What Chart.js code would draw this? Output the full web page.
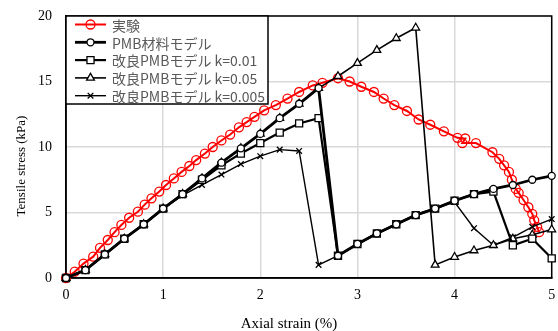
<!DOCTYPE html>
<html>
<head>
<meta charset="utf-8">
<script src="https://cdn.jsdelivr.net/npm/chart.js@4.4.1/dist/chart.umd.min.js"></script>
<style>
  body { margin: 0; background: #fff; }
  canvas { display: block; }
</style>
</head>
<body>
<canvas id="strainChart" width="558" height="331"></canvas>
<script>
'use strict';

// 実験 (experiment)
var expStrain = [0, 0.09, 0.18, 0.28, 0.35, 0.43, 0.5, 0.57, 0.65, 0.74, 0.81, 0.88, 0.96, 1.03, 1.11, 1.19,
    1.27, 1.34, 1.43, 1.51, 1.6, 1.69, 1.78, 1.86, 1.94, 2.04, 2.16, 2.28, 2.4, 2.54, 2.64, 2.8,
    2.92, 3.04, 3.17, 3.27, 3.38, 3.51, 3.63, 3.75, 3.89, 4.03, 4.11, 4.08, 4.22, 4.39, 4.46, 4.51,
    4.56, 4.59, 4.63, 4.66, 4.71, 4.76, 4.8, 4.82, 4.85, 4.87];
var expStress = [0, 0.48, 1.1, 1.63, 2.3, 2.9, 3.5, 4.05, 4.6, 5.06, 5.6, 6.08, 6.6, 7.1, 7.6, 8.1,
    8.55, 9.0, 9.5, 10.0, 10.5, 10.95, 11.5, 11.9, 12.3, 12.8, 13.2, 13.7, 14.2, 14.7, 14.9, 15.25,
    15.0, 14.6, 14.2, 13.7, 13.2, 12.75, 12.1, 11.7, 11.2, 10.7, 10.65, 10.3, 10.3, 9.6, 9.1, 8.6,
    8.1, 7.5, 6.8, 6.5, 5.95, 5.4, 4.9, 4.4, 3.9, 3.5];

// model curves share the same strain steps
var modelStrain = [0, 0.2, 0.4, 0.6, 0.8, 1.0, 1.2, 1.4, 1.6, 1.8, 2.0, 2.2, 2.4, 2.6,
    2.8, 3.0, 3.2, 3.4, 3.6, 3.8, 4.0, 4.2, 4.4, 4.6, 4.8, 5.0];
var pmbStress = [0, 0.6, 1.8, 3.0, 4.1, 5.3, 6.4, 7.6, 8.8, 9.9, 11.0, 12.2, 13.3, 14.5,
    1.7, 2.6, 3.4, 4.1, 4.8, 5.3, 5.9, 6.4, 6.8, 7.1, 7.5, 7.8];
var k001Stress = [0, 0.6, 1.8, 3.0, 4.1, 5.3, 6.4, 7.5, 8.6, 9.5, 10.3, 11.1, 11.8, 12.2,
    1.7, 2.6, 3.4, 4.1, 4.8, 5.3, 5.9, 6.4, 6.6, 2.5, 3.0, 1.5];
var k005Stress = [0, 0.6, 1.8, 3.0, 4.1, 5.3, 6.4, 7.6, 8.8, 9.9, 11.0, 12.2, 13.3, 14.5,
    15.4, 16.4, 17.4, 18.3, 19.1, 1.0, 1.6, 2.1, 2.5, 3.0, 3.3, 3.7];
var k0005Stress = [0, 0.6, 1.8, 3.0, 4.1, 5.3, 6.3, 7.1, 7.9, 8.7, 9.3, 9.8, 9.7, 1.0,
    1.7, 2.6, 3.4, 4.1, 4.8, 5.3, 5.8, 3.8, 2.5, 3.1, 3.9, 4.5];

var seriesNames = ['実験', 'PMB材料モデル', '改良PMBモデル k=0.01', '改良PMBモデル k=0.05', '改良PMBモデル k=0.005'];
var xTicks = [0, 1, 2, 3, 4, 5];
var yTicks = [0, 5, 10, 15, 20];
var xTitle = 'Axial strain (%)';
var yTitle = 'Tensile stress (kPa)';

function toPoints(xs, ys) {
    return xs.map(function (x, i) { return { x: x, y: ys[i] }; });
}

function series(label, xs, ys, color, width, style, radius, fill, order) {
    return {
        label: label,
        data: toPoints(xs, ys),
        showLine: true,
        borderColor: color,
        backgroundColor: color,
        borderWidth: width,
        pointStyle: style,
        pointRadius: radius,
        pointBorderColor: color,
        pointBackgroundColor: fill,
        pointBorderWidth: 1.3,
        pointHoverRadius: radius,
        clip: false,
        order: order
    };
}

var datasets = [
    series(seriesNames[0], expStrain, expStress, '#ff0000', 2, 'circle', 4.5, 'rgba(0,0,0,0)', 10),
    series(seriesNames[1], modelStrain, pmbStress, '#000000', 2.8, 'circle', 3.5, '#ffffff', 1),
    series(seriesNames[2], modelStrain, k001Stress, '#000000', 2.2, 'rect', 5, '#ffffff', 2),
    series(seriesNames[3], modelStrain, k005Stress, '#000000', 1.6, 'triangle', 4.5, '#ffffff', 3),
    series(seriesNames[4], modelStrain, k0005Stress, '#000000', 1.4, 'crossRot', 4, '#ffffff', 4)
];

var serif = '"Liberation Serif", "Times New Roman", serif';

// frame round the plot + legend box inside top-left corner
var framePlugin = {
    id: 'frameAndLegend',
    beforeDatasetsDraw: function (chart) {
        var ctx = chart.ctx;
        var a = chart.chartArea;
        ctx.save();
        ctx.strokeStyle = '#000';
        ctx.lineWidth = 1.5;
        ctx.strokeRect(a.left, a.top, a.right - a.left, a.bottom - a.top);

        // legend
        var bx = a.left, by = a.top, bw = 202, bh = 88;
        ctx.fillStyle = '#fff';
        ctx.fillRect(bx, by, bw, bh);
        ctx.strokeRect(bx, by, bw, bh);
        ctx.font = '14px "Noto Sans CJK JP", "Noto Sans", sans-serif';
        ctx.textBaseline = 'middle';
        ctx.textAlign = 'left';
        chart.data.datasets.forEach(function (ds, i) {
            var y = by + 8.5 + i * 17.8;
            ctx.strokeStyle = ds.borderColor;
            ctx.lineWidth = ds.borderWidth;
            ctx.beginPath();
            ctx.moveTo(bx + 9, y);
            ctx.lineTo(bx + 40, y);
            ctx.stroke();
            ctx.fillStyle = ds.pointBackgroundColor;
            ctx.lineWidth = 1.3;
            Chart.helpers.drawPoint(ctx, {
                pointStyle: ds.pointStyle,
                radius: ds.pointRadius,
                rotation: 0,
                borderWidth: 1.3
            }, bx + 24.5, y);
            ctx.fillStyle = '#595959';
            ctx.fillText(ds.label, bx + 46, y + 1);
        });
        ctx.restore();
    },
    // axis titles sit a little off-centre in the original
    afterDraw: function (chart) {
        var ctx = chart.ctx;
        ctx.save();
        ctx.fillStyle = '#000';
        ctx.textAlign = 'center';
        ctx.textBaseline = 'middle';
        ctx.font = '15px ' + serif;
        ctx.fillText(xTitle, 289, 324);
        ctx.translate(22, 166);
        ctx.rotate(-Math.PI / 2);
        ctx.font = '13px ' + serif;
        ctx.fillText(yTitle, 0, 0);
        ctx.restore();
    }
};

var ctx = document.getElementById('strainChart').getContext('2d');
var chart = new Chart(ctx, {
    type: 'scatter',
    data: { datasets: datasets },
    options: {
        responsive: false,
        animation: false,
        layout: { padding: { top: 16, right: 5, left: 0, bottom: 0 } },
        plugins: {
            legend: { display: false },
            tooltip: { enabled: false }
        },
        scales: {
            x: {
                type: 'linear',
                min: 0,
                max: 5,
                afterFit: function (scale) {
                    scale.height = 53;
                    scale.paddingLeft = 0;
                    scale.paddingRight = 0;
                },
                afterBuildTicks: function (scale) {
                    scale.ticks = xTicks.map(function (v) { return { value: v }; });
                },
                grid: { color: '#d9d9d9', lineWidth: 1.5, drawTicks: false },
                border: { display: true, color: '#000', width: 1.5 },
                ticks: { padding: 9, color: '#000', font: { family: serif, size: 14 } }
            },
            y: {
                type: 'linear',
                min: 0,
                max: 20,
                afterFit: function (scale) {
                    scale.width = 66;
                    scale.paddingTop = 0;
                    scale.paddingBottom = 0;
                },
                afterBuildTicks: function (scale) {
                    scale.ticks = yTicks.map(function (v) { return { value: v }; });
                },
                grid: { color: '#d9d9d9', lineWidth: 1.5, drawTicks: false },
                border: { display: true, color: '#000', width: 1.5 },
                ticks: { padding: 14, color: '#000', font: { family: serif, size: 14 } }
            }
        }
    },
    plugins: [framePlugin]
});
</script>
</body>
</html>
